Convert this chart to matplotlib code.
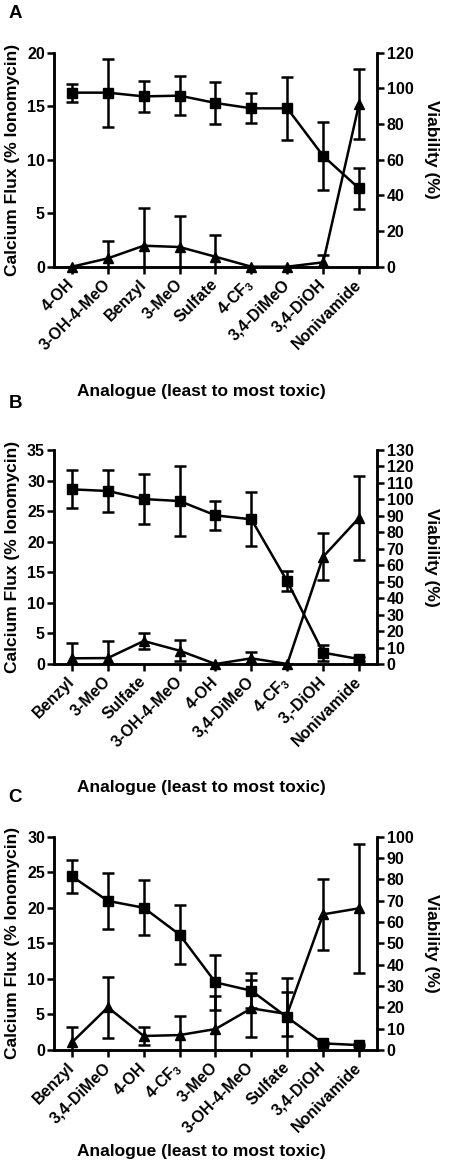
import matplotlib
matplotlib.use('Agg')
import numpy as np
import matplotlib.pyplot as plt

plt.rcParams['font.family'] = ['Liberation Sans', 'DejaVu Sans']
plt.rcParams['font.weight'] = 'bold'
plt.rcParams['mathtext.default'] = 'regular'

# Panel A
cats_a = ['4-OH', '3-OH-4-MeO', 'Benzyl', '3-MeO', 'Sulfate', '4-CF$_3$',
          '3,4-DiMeO', '3,4-DiOH', 'Nonivamide']
via_a = [97.6, 97.6, 95.5, 95.9, 91.8, 88.8, 88.8, 62.1, 43.9]
via_err_a = [5.0, 19.0, 8.8, 11.1, 12.0, 8.5, 17.7, 19.0, 11.3]
flux_a = [0, 0.78, 1.96, 1.84, 0.93, 0, 0, 0.41, 15.2]
flux_err_a = [0, 1.6, 3.5, 2.87, 2.05, 0, 0, 0.68, 3.3]

# Panel B
cats_b = ['Benzyl', '3-MeO', 'Sulfate', '3-OH-4-MeO', '4-OH', '3,4-DiMeO',
          '4-CF$_3$', '3,-DiOH', 'Nonivamide']
via_b = [106.1, 105.1, 100.2, 99.0, 90.3, 87.9, 50.2, 6.9, 3.0]
via_err_b = [11.5, 12.8, 15.2, 21.3, 9.0, 16.5, 6.0, 4.9, 1.0]
flux_b = [0.93, 0.97, 3.76, 2.18, 0, 0.93, 0, 17.55, 23.9]
flux_err_b = [2.5, 2.8, 1.3, 1.7, 0, 1.1, 0, 3.8, 6.9]

# Panel C
cats_c = ['Benzyl', '3,4-DiMeO', '4-OH', '4-CF$_3$', '3-MeO', '3-OH-4-MeO',
          'Sulfate', '3,4-DiOH', 'Nonivamide']
via_c = [81.4, 69.9, 66.7, 54.1, 31.7, 27.8, 15.3, 3.1, 2.3]
via_err_c = [7.7, 13.0, 13.0, 13.7, 13.0, 8.2, 18.3, 0.8, 0.5]
flux_c = [1.08, 6.0, 1.97, 2.1, 2.95, 5.86, 5.06, 19.08, 19.93]
flux_err_c = [2.15, 4.3, 1.3, 2.7, 4.65, 4.0, 3.05, 5.0, 9.1]

XLABEL = 'Analogue (least to most toxic)'
LW = 1.8


def draw_panel(ax, cats, via, via_err, flux, flux_err, left_max, left_step,
               right_max, right_step, xlab_y, right_lab_y=0.5):
    x = np.arange(len(cats))
    ax2 = ax.twinx()

    # calcium flux (triangles) on left axis
    ax.errorbar(x, flux, yerr=flux_err, color='black', lw=LW, elinewidth=LW,
                capsize=4.5, capthick=LW, marker='none')
    ax.plot(x, flux, '^', color='black', ms=6.5, clip_on=False, zorder=5)

    # viability (squares) on right axis
    ax2.errorbar(x, via, yerr=via_err, color='black', lw=LW, elinewidth=LW,
                 capsize=4.5, capthick=LW, marker='none')
    ax2.plot(x, via, 's', color='black', ms=6.5, clip_on=False, zorder=5)

    ax.set_xlim(-0.5, len(cats) - 0.5)
    ax.set_ylim(0, left_max)
    ax2.set_ylim(0, right_max)
    ax.set_yticks(np.arange(0, left_max + 0.1, left_step))
    ax2.set_yticks(np.arange(0, right_max + 0.1, right_step))
    ax.set_xticks(x)
    ax.set_xticklabels(cats, rotation=45, ha='right', va='center',
                       rotation_mode='anchor', fontsize=11.5, fontweight='bold')

    for a in (ax, ax2):
        a.spines['top'].set_visible(False)
        for s in ('left', 'right', 'bottom'):
            a.spines[s].set_linewidth(LW)
        a.tick_params(width=LW, length=5, labelsize=11.5)
    ax.tick_params(axis='y', pad=1.5)
    ax.tick_params(axis='x', pad=6)
    ax2.tick_params(axis='y', pad=2)
    for lab in ax.get_yticklabels() + ax2.get_yticklabels():
        lab.set_fontweight('bold')

    ax.set_ylabel('Calcium Flux (% Ionomycin)', fontsize=12.5,
                  fontweight='bold', va='center')
    ax.yaxis.set_label_coords(-0.130, 0.5)
    ax2.set_ylabel('Viability (%)', fontsize=12.5, fontweight='bold',
                   rotation=270, va='center')
    ax2.yaxis.set_label_coords(1.169, right_lab_y)
    ax.set_xlabel(XLABEL, fontsize=12.5, fontweight='bold', va='center')
    ax.xaxis.set_label_coords(0.457, xlab_y)
    return ax2


fig = plt.figure(figsize=(4.52, 11.64), dpi=100)
W, H = 452, 1164
left = 54 / W
width = 323 / W

ax_a = fig.add_axes([left, 1 - 266.7 / H, width, 214 / H])
draw_panel(ax_a, cats_a, via_a, via_err_a, flux_a, flux_err_a,
           20, 5, 120, 20, -0.584, 0.547)
ax_b = fig.add_axes([left, 1 - 664 / H, width, 214 / H])
draw_panel(ax_b, cats_b, via_b, via_err_b, flux_b, flux_err_b,
           35, 5, 130, 10, -0.579)
ax_c = fig.add_axes([left, 1 - 1050 / H, width, 213.3 / H])
draw_panel(ax_c, cats_c, via_c, via_err_c, flux_c, flux_err_c,
           30, 5, 100, 10, -0.477)

for letter, ypx in (('A', 13), ('B', 403), ('C', 798)):
    fig.text(15 / W, 1 - ypx / H, letter, fontsize=13.5, fontweight='bold',
             ha='center', va='center')

fig.savefig('out.png', dpi=100)
